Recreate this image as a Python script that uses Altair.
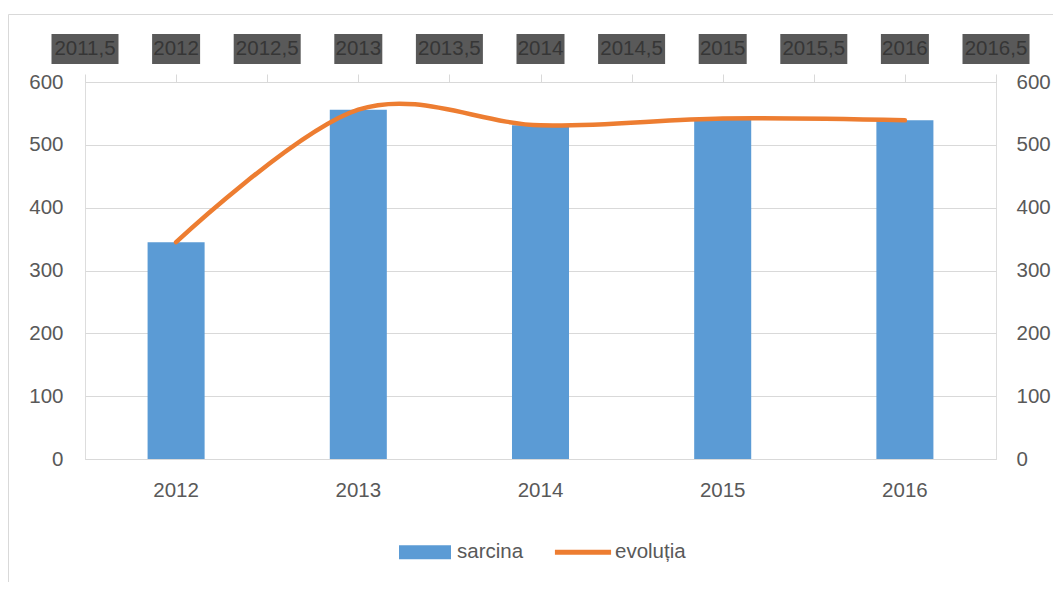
import altair as alt
import pandas as pd

# ---- data ----
years = ["2012", "2013", "2014", "2015", "2016"]
sarcina = [345, 556, 531, 542, 539]
evolutia = [345, 556, 531, 542, 539]
series = ["sarcina", "evoluția"]
y_ticks = [0, 100, 200, 300, 400, 500, 600]
top_ticks = [2011.5, 2012, 2012.5, 2013, 2013.5, 2014, 2014.5, 2015, 2015.5, 2016, 2016.5]
top_labels = ["2011,5", "2012", "2012,5", "2013", "2013,5", "2014",
              "2014,5", "2015", "2015,5", "2016", "2016,5"]

BLUE = "#5b9bd5"
ORANGE = "#ed7d31"
GRID = "#d9d9d9"
TXT = "#595959"
BOX = "#595959"
BOXTXT = "#363636"
FONT = "Liberation Sans"
FS = 20.5
SYM_BAR = "M-1,-0.27H1V0.27H-1Z"
SYM_LINE = "M-1.08,-0.1H1.08V0.1H-1.08Z"

df = pd.DataFrame({"an": years, "sarcina": sarcina, "evolutia": evolutia})
top_df = pd.DataFrame({"v": top_ticks, "lab": top_labels})
leg_df = pd.DataFrame({"serie": series})

xband = alt.Scale(domain=years, paddingInner=0.687, paddingOuter=0.3435)
yscale = alt.Scale(domain=[0, 600], nice=False)
xtop = alt.Scale(domain=[2011.5, 2016.5], nice=False, zero=False)

frame = alt.Chart(pd.DataFrame({"k": [0]})).mark_rect(
    fill="transparent", stroke=GRID, strokeWidth=1
).encode(
    x=alt.value(-76.5), x2=alt.value(1000), y=alt.value(-67.5), y2=alt.value(600)
)

legend = alt.Legend(
    orient="none", legendX=314, legendY=444, direction="horizontal", title=None,
    padding=0, symbolSize=2704, symbolStrokeWidth=0, symbolOpacity=1,
    labelFontSize=FS, labelColor=TXT, labelFont=FONT, labelOffset=6, columnPadding=30,
)

bars = alt.Chart(df).mark_bar(color=BLUE).encode(
    x=alt.X("an:N", scale=xband, axis=alt.Axis(
        orient="bottom", title=None, labelAngle=0, ticks=False, tickSize=0,
        domainColor=GRID, domainWidth=1, labelPadding=31, labelBaseline="middle",
        labelFontSize=FS, labelColor=TXT, labelFont=FONT, grid=False)),
    y=alt.Y("sarcina:Q", scale=yscale, axis=alt.Axis(
        orient="left", title=None, values=y_ticks, domain=False, ticks=False, tickSize=0,
        labelPadding=22, grid=True, gridColor=GRID, gridWidth=1,
        labelFontSize=FS, labelColor=TXT, labelFont=FONT)),
)

line = alt.Chart(df).mark_line(
    color=ORANGE, strokeWidth=4.5, interpolate="cardinal", strokeCap="round"
).encode(
    x=alt.X("an:N", scale=xband, axis=None),
    y=alt.Y("evolutia:Q", scale=yscale, axis=alt.Axis(
        orient="right", title=None, values=y_ticks, domain=False, ticks=False, tickSize=0,
        labelPadding=20, grid=False, labelFontSize=FS, labelColor=TXT, labelFont=FONT)),
)

leg = alt.Chart(leg_df).mark_point(filled=True, opacity=0).encode(
    x=alt.value(0), y=alt.value(0),
    color=alt.Color("serie:N", scale=alt.Scale(domain=series, range=[BLUE, ORANGE]), legend=legend),
    shape=alt.Shape("serie:N", scale=alt.Scale(domain=series, range=[SYM_BAR, SYM_LINE]), legend=legend),
)

top_base = alt.Chart(top_df).transform_calculate(half="datum.v % 1 != 0")

box_half = top_base.transform_filter("datum.half").mark_rect(width=67, color=BOX).encode(
    x=alt.X("v:Q", scale=xtop, axis=alt.Axis(
        orient="top", title=None, values=top_ticks, labels=False, tickSize=8,
        tickColor=GRID, domainColor=GRID, grid=False)),
    y=alt.value(-48), y2=alt.value(-18),
)
box_int = top_base.transform_filter("!datum.half").mark_rect(width=48, color=BOX).encode(
    x=alt.X("v:Q", scale=xtop, axis=None),
    y=alt.value(-48), y2=alt.value(-18),
)
top_text = top_base.mark_text(fontSize=FS, font=FONT, color=BOXTXT, baseline="middle", align="center").encode(
    x=alt.X("v:Q", scale=xtop, axis=None),
    y=alt.value(-33),
    text="lab:N",
)

chart = alt.layer(frame, bars, line, leg, box_half, box_int, top_text).resolve_scale(
    x="independent", y="independent"
).properties(
    width=911, height=377,
    autosize=alt.AutoSizeParams(type="none"),
    padding={"left": 77, "top": 74, "right": 57, "bottom": 123},
).configure_view(stroke="transparent").configure(font=FONT)

chart.save("out.html", embed_options={"renderer": "svg", "actions": False})
